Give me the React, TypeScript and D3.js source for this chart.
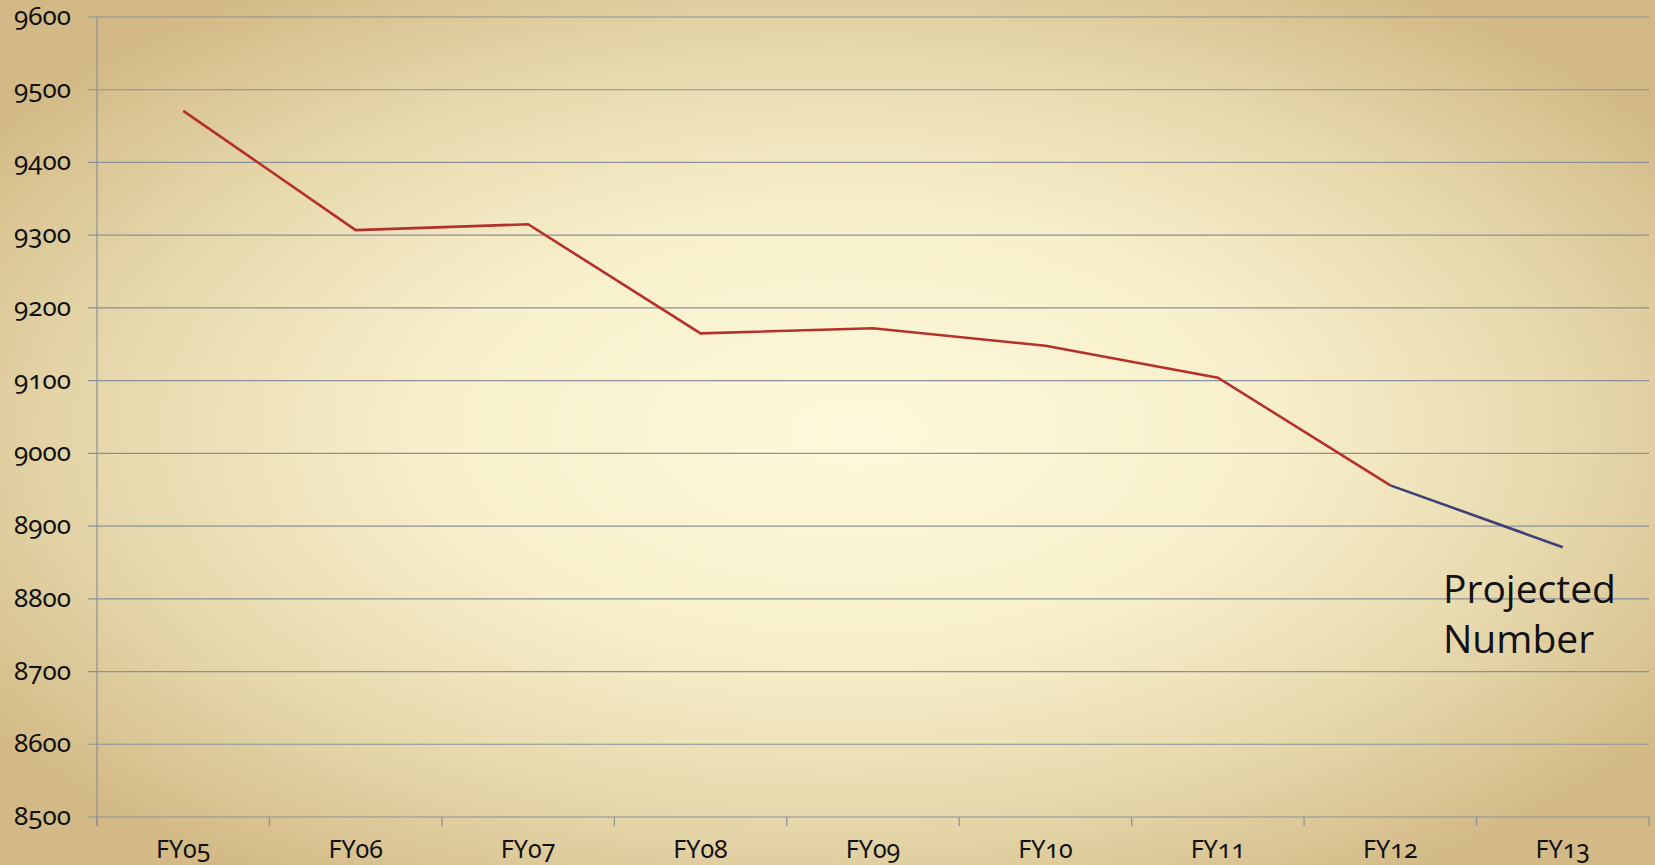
import React from "react";
import * as d3 from "d3";

const categories = ["FY05", "FY06", "FY07", "FY08", "FY09", "FY10", "FY11", "FY12", "FY13"];
const actual = [9471, 9307, 9315, 9165, 9172, 9148, 9104, 8956];
const projected = [8956, 8871];
const yTicks = [8500, 8600, 8700, 8800, 8900, 9000, 9100, 9200, 9300, 9400, 9500, 9600];
const note = ["Projected", "Number"];

const W = 1655;
const H = 865;
const m = { left: 97, right: 6, top: 17, bottom: 48 };

export default function App() {
  const x = d3
    .scaleBand()
    .domain(categories)
    .range([m.left, W - m.right])
    .padding(0);
  const y = d3
    .scaleLinear()
    .domain([8500, 9600])
    .range([H - m.bottom, m.top]);

  const cx = (c) => x(c) + x.bandwidth() / 2;
  const line = d3
    .line()
    .x((d) => d[0])
    .y((d) => d[1]);

  const actualPts = actual.map((v, i) => [cx(categories[i]), y(v)]);
  const projPts = projected.map((v, i) => [
    cx(categories[actual.length - 1 + i]),
    y(v),
  ]);

  const bounds = categories.map((c) => x(c)).concat([x.range()[1]]);
  const labelFont = "Noto Sans, Lato, sans-serif";

  return (
    <svg
      width={W}
      height={H}
      style={{ position: "absolute", left: 0, top: 0, display: "block" }}
    >
      <defs>
        <radialGradient id="bg" cx="50%" cy="50%" r="62%" fx="52%" fy="50%">
          <stop offset="0%" stopColor="#fdf9da" />
          <stop offset="40%" stopColor="#f8f0cc" />
          <stop offset="72%" stopColor="#e6d8ac" />
          <stop offset="100%" stopColor="#d2b985" />
        </radialGradient>
      </defs>
      <rect width={W} height={H} fill="url(#bg)" />

      {/* gridlines + y ticks */}
      {yTicks.map((t) => (
        <g key={t}>
          <line
            x1={m.left - 9}
            x2={W - m.right}
            y1={y(t)}
            y2={y(t)}
            stroke="#8c9099"
            strokeWidth={1.2}
          />
          <text
            x={71}
            y={y(t) + 8}
            textAnchor="end"
            fontFamily={labelFont}
            fontSize={26}
            fill="#111"
            style={{ fontVariantNumeric: "oldstyle-nums" }}
          >
            {t}
          </text>
        </g>
      ))}

      {/* y axis */}
      <line
        x1={m.left}
        x2={m.left}
        y1={m.top}
        y2={H - m.bottom + 9}
        stroke="#8c9099"
        strokeWidth={1.2}
      />
      {/* x ticks */}
      {bounds.map((b, i) => (
        <line
          key={i}
          x1={b}
          x2={b}
          y1={H - m.bottom}
          y2={H - m.bottom + 9}
          stroke="#8c9099"
          strokeWidth={1.2}
        />
      ))}
      {categories.map((c) => (
        <text
          key={c}
          x={cx(c)}
          y={H - 7}
          textAnchor="middle"
          fontFamily={labelFont}
          fontSize={25}
          fill="#111"
          style={{ fontVariantNumeric: "oldstyle-nums" }}
        >
          {c}
        </text>
      ))}

      <path d={line(actualPts)} fill="none" stroke="#b5302a" strokeWidth={2.6} />
      <path d={line(projPts)} fill="none" stroke="#3d4178" strokeWidth={2.6} />

      {note.map((s, i) => (
        <text
          key={s}
          x={1443}
          y={603 + i * 50}
          fontFamily="Open Sans, Noto Sans, sans-serif"
          fontSize={39}
          fill="#111"
        >
          {s}
        </text>
      ))}
    </svg>
  );
}
